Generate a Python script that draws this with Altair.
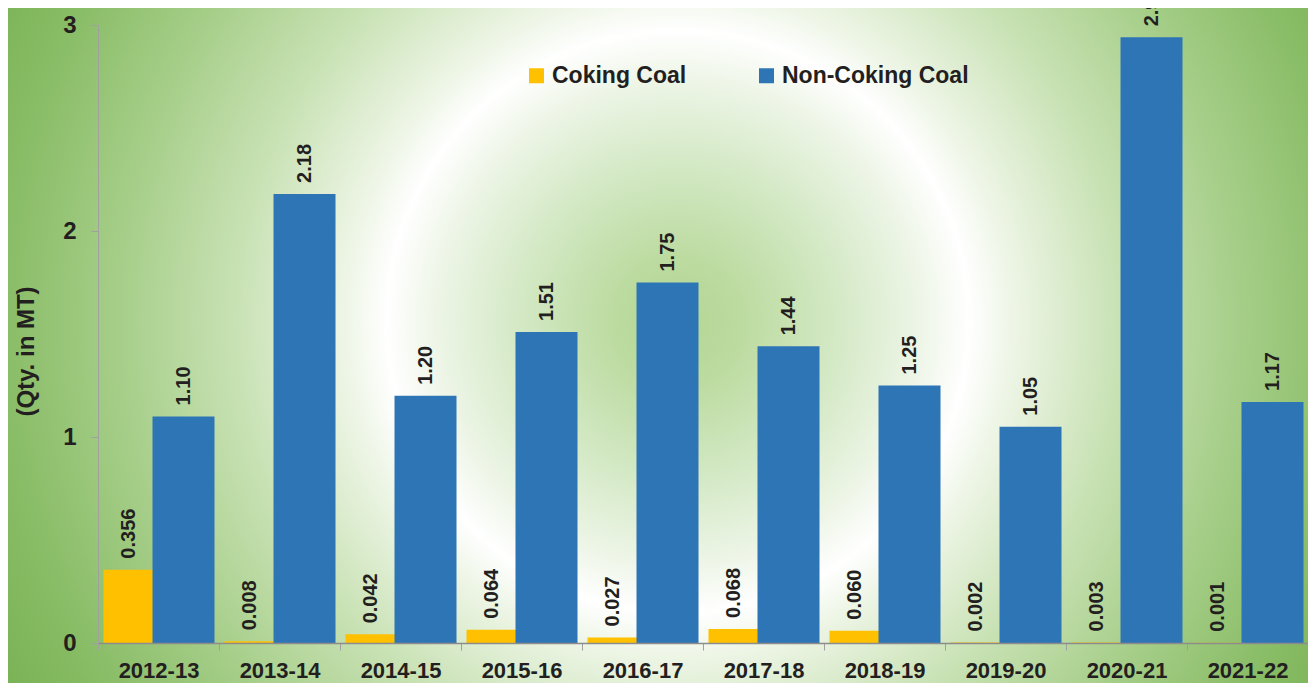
import altair as alt
import pandas as pd

years = ["2012-13", "2013-14", "2014-15", "2015-16", "2016-17",
         "2017-18", "2018-19", "2019-20", "2020-21", "2021-22"]
coking = [0.356, 0.008, 0.042, 0.064, 0.027, 0.068, 0.060, 0.002, 0.003, 0.001]
non_coking = [1.10, 2.18, 1.20, 1.51, 1.75, 1.44, 1.25, 1.05, 2.94, 1.17]
series = ["Coking Coal", "Non-Coking Coal"]
colors = ["#FFC000", "#2E75B6"]

rows = []
for yr, c, n in zip(years, coking, non_coking):
    rows.append({"year": yr, "type": series[0], "value": c})
    rows.append({"year": yr, "type": series[1], "value": n})
df = pd.DataFrame(rows)

FONT = "Liberation Sans, Arial, sans-serif"
TXT = "#231F20"
W, H = 1210, 618

x_enc = alt.X(
    "year:N", sort=years, title=None,
    scale=alt.Scale(paddingInner=0, paddingOuter=0),
    axis=alt.Axis(labelAngle=0, labelFont=FONT, labelFontSize=22, labelFontWeight="bold",
                  labelColor=TXT, tickBand="extent", tickSize=7, tickColor="#A0A0A0",
                  domainColor="#8C8C8C", domainWidth=1.5, labelPadding=10, zindex=1),
)
y_enc = alt.Y(
    "value:Q", scale=alt.Scale(domain=[0, 3], nice=False), title="(Qty. in MT)",
    axis=alt.Axis(values=[0, 1, 2, 3], format="d", grid=False, labelFont=FONT,
                  labelFontSize=24, labelFontWeight="bold", labelColor=TXT, labelPadding=15,
                  tickSize=7, tickColor="#A0A0A0", domainColor="#A0A0A0", zindex=1,
                  titleFont=FONT, titleFontSize=24, titleFontWeight="bold", titleColor=TXT,
                  titleAngle=270, titleX=-72, titleY=326, titleAlign="center",
                  titleBaseline="middle"),
)
color_enc = alt.Color(
    "type:N", scale=alt.Scale(domain=series, range=colors),
    legend=alt.Legend(title=None, orient="none", legendX=427, legendY=39,
                      direction="horizontal", symbolType="square", symbolSize=225,
                      symbolStrokeWidth=0, symbolOpacity=1, labelFont=FONT,
                      labelFontSize=23, labelFontWeight="bold", labelColor=TXT,
                      labelOffset=4, columnPadding=68, padding=0, labelLimit=0),
)

bg = alt.Chart(alt.Data(values=[{"a": 1}])).mark_rect(
    clip=False,
    fill=alt.RadialGradient(
        gradient="radial", x1=0.5, y1=0.5, r1=0, x2=0.5, y2=0.5, r2=0.5,
        stops=[
            alt.GradientStop(offset=0.0, color="#B2D694"),
            alt.GradientStop(offset=0.08, color="#BCDBA0"),
            alt.GradientStop(offset=0.2, color="#D4E9C6"),
            alt.GradientStop(offset=0.3, color="#EDF5E6"),
            alt.GradientStop(offset=0.364, color="#FFFFFF"),
            alt.GradientStop(offset=0.42, color="#EDF5E5"),
            alt.GradientStop(offset=0.55, color="#C9E2B5"),
            alt.GradientStop(offset=0.7, color="#A6CE89"),
            alt.GradientStop(offset=0.85, color="#88BC65"),
            alt.GradientStop(offset=1.0, color="#74AE4F"),
        ],
    ),
).encode(x=alt.value(-220), x2=alt.value(1380), y=alt.value(-503), y2=alt.value(1097))

base = alt.Chart(df)
cok = base.transform_filter(alt.datum.type == series[0])
non = base.transform_filter(alt.datum.type == series[1])

bar_c = cok.mark_bar(width=50, xOffset=-30).encode(x=x_enc, y=y_enc, color=color_enc)
bar_n = non.mark_bar(width=62, xOffset=25).encode(x=x_enc, y=y_enc, color=color_enc)

txt_style = dict(angle=270, align="left", baseline="middle", dx=11, font=FONT,
                 fontSize=20, fontWeight="bold", color=TXT)
lab_c = cok.mark_text(xOffset=-30, **txt_style).encode(
    x=alt.X("year:N", sort=years), y="value:Q", text=alt.Text("value:Q", format=".3f"))
lab_n = non.mark_text(xOffset=25, **txt_style).encode(
    x=alt.X("year:N", sort=years), y="value:Q", text=alt.Text("value:Q", format=".2f"))

chart = alt.layer(bg, bar_c, bar_n, lab_c, lab_n).properties(
    width=W, height=H,
    autosize=alt.AutoSizeParams(type="none"),
    padding={"left": 90, "top": 17, "right": 0, "bottom": 40},
).configure_view(stroke=None)

chart.save("out.html", embed_options={"renderer": "svg", "actions": False})
